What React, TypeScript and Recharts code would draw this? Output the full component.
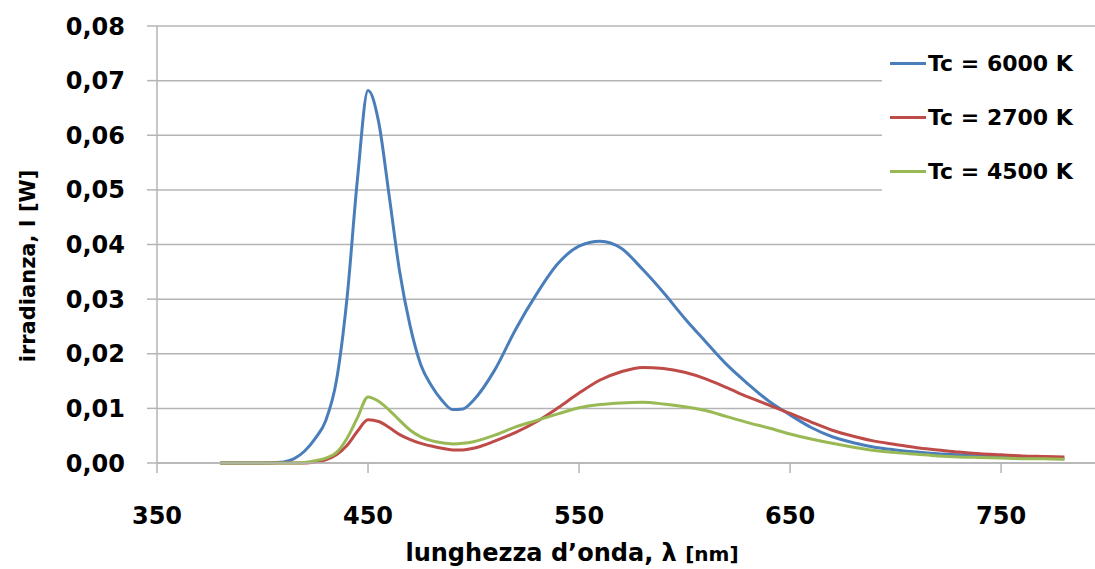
import { LineChart, Line, XAxis, YAxis, CartesianGrid } from "recharts";

// wavelength [nm]
const wavelengths = [
  380, 390, 400, 410, 415, 420, 425, 430, 435, 440, 445, 450, 455, 460, 465, 470, 475, 480, 485, 490, 495, 500,
  510, 520, 530, 540, 550, 560, 570, 580, 590, 600, 610, 620, 630, 640, 650, 660, 670, 680, 690, 700,
  710, 720, 730, 740, 750, 760, 770, 780,
];

// irradiance [W]
const tc6000 = [
  0, 0, 0, 0.0002, 0.0008, 0.0022, 0.0045, 0.0078, 0.015, 0.03, 0.052, 0.0682, 0.0625, 0.049, 0.035, 0.025, 0.018, 0.0142, 0.0115, 0.0098, 0.0099, 0.0115,
  0.017, 0.0245, 0.031, 0.0365, 0.0397, 0.0406, 0.0393, 0.0355, 0.0312, 0.0265, 0.0222, 0.018, 0.0145, 0.0113, 0.0088, 0.0065, 0.0048, 0.0037, 0.0029, 0.0024,
  0.002, 0.0017, 0.0015, 0.0013, 0.0012, 0.001, 0.0009, 0.0008,
];
const tc2700 = [
  0, 0, 0, 0, 0, 0, 0.0002, 0.0006, 0.0015, 0.0032, 0.0058, 0.0079, 0.0076, 0.0065, 0.0052, 0.0043, 0.0036, 0.0031, 0.0027, 0.0024, 0.0024, 0.0027,
  0.004, 0.0056, 0.0076, 0.0101, 0.0128, 0.0152, 0.0167, 0.0175, 0.0173, 0.0166, 0.0154, 0.0138, 0.0121, 0.0106, 0.0091, 0.0075, 0.006, 0.0049, 0.004, 0.0034,
  0.0028, 0.0024, 0.002, 0.0017, 0.0015, 0.0013, 0.0012, 0.0011,
];
const tc4500 = [
  0, 0, 0, 0, 0, 0.0001, 0.0004, 0.0009, 0.0019, 0.0045, 0.0083, 0.0121, 0.0113, 0.0097, 0.0078, 0.006, 0.0048, 0.0041, 0.0037, 0.0035, 0.0036, 0.0039,
  0.0051, 0.0066, 0.0078, 0.009, 0.0101, 0.0107, 0.011, 0.0111, 0.0108, 0.0103, 0.0096, 0.0085, 0.0074, 0.0064, 0.0053, 0.0044, 0.0036, 0.0029, 0.0023, 0.0019,
  0.0016, 0.0013, 0.0011, 0.001, 0.0009, 0.0008, 0.0008, 0.0007,
];

const xTicks = [350, 450, 550, 650, 750];
const yTicks = [0, 0.01, 0.02, 0.03, 0.04, 0.05, 0.06, 0.07, 0.08];

const series = [
  { key: "tc6000", name: "Tc = 6000 K", color: "#4a7ebb" },
  { key: "tc2700", name: "Tc = 2700 K", color: "#be4b48" },
  { key: "tc4500", name: "Tc = 4500 K", color: "#98b954" },
];

const data = wavelengths.map((w, i) => ({
  w,
  tc6000: tc6000[i],
  tc2700: tc2700[i],
  tc4500: tc4500[i],
}));

const FONT = "'DejaVu Sans', sans-serif";
const GRID = "#b4b4b4";

// legend drawn as an overlay so it does not shrink the plot area
function LegendBox() {
  return (
    <div
      style={{
        position: "absolute",
        left: 882,
        top: 36,
        width: 206,
        background: "#fff",
        padding: "0 0 0 8px",
        fontFamily: FONT,
      }}
    >
      {series.map((s) => (
        <div key={s.key} style={{ display: "flex", alignItems: "center", height: 54 }}>
          <div style={{ width: 36, height: 3, background: s.color, marginRight: 2 }} />
          <span style={{ fontSize: 22, fontWeight: "bold", color: "#000", whiteSpace: "nowrap" }}>{s.name}</span>
        </div>
      ))}
    </div>
  );
}

export default function App() {
  return (
    <div style={{ position: "absolute", left: 0, top: 0, width: 1095, height: 569, background: "#fff" }}>
      <LineChart width={1095} height={569} data={data} margin={{ top: 26, right: 0, bottom: 0, left: 0 }}>
        <CartesianGrid vertical={false} stroke={GRID} strokeWidth={1.5} />
        <XAxis
          dataKey="w"
          type="number"
          domain={[350, 794.5]}
          ticks={xTicks}
          allowDataOverflow
          height={106}
          stroke={GRID}
          strokeWidth={1.5}
          tickSize={10}
          tickMargin={34}
          tick={{ fill: "#000", fontSize: 24, fontWeight: "bold", fontFamily: FONT }}
          label={{
            content: () => (
              <text x={572} y={561} textAnchor="middle" fontFamily={FONT} fontWeight="bold" fill="#000">
                <tspan fontSize={24}>lunghezza d’onda, λ </tspan>
                <tspan fontSize={20}>[nm]</tspan>
              </text>
            ),
          }}
        />
        <YAxis
          type="number"
          domain={[0, 0.08]}
          ticks={yTicks}
          width={157}
          stroke={GRID}
          strokeWidth={1.5}
          tickSize={10}
          tickMargin={22}
          tickFormatter={(v: number) => v.toFixed(2).replace(".", ",")}
          tick={{ fill: "#000", fontSize: 24, fontWeight: "bold", fontFamily: FONT }}
          label={{
            content: () => (
              <text
                x={28}
                y={266}
                transform="rotate(-90 28 266)"
                textAnchor="middle"
                dominantBaseline="central"
                fontFamily={FONT}
                fontWeight="bold"
                fontSize={21}
                fill="#000"
              >
                irradianza, I  [W]
              </text>
            ),
          }}
        />
        {series.map((s) => (
          <Line
            key={s.key}
            type="monotone"
            dataKey={s.key}
            name={s.name}
            stroke={s.color}
            strokeWidth={3}
            dot={false}
            isAnimationActive={false}
          />
        ))}
      </LineChart>
      <LegendBox />
    </div>
  );
}
